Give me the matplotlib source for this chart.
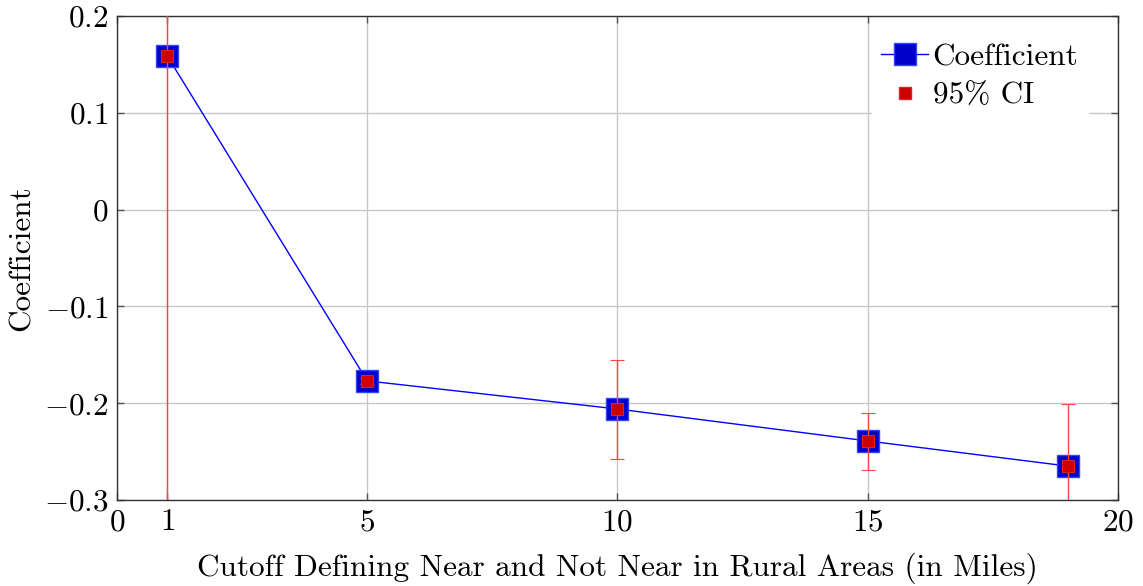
import matplotlib.pyplot as plt
from matplotlib.lines import Line2D
from matplotlib.ticker import FixedLocator, FixedFormatter

plt.rcParams['font.family'] = 'serif'
plt.rcParams['font.serif'] = ['cmr10']
plt.rcParams['mathtext.fontset'] = 'cm'
plt.rcParams['axes.formatter.use_mathtext'] = True

# cutoff distance (miles) and estimated coefficients
cutoff = [1, 5, 10, 15, 19]
coef = [0.159, -0.177, -0.206, -0.239, -0.265]
ci_low = [-0.60, -0.180, -0.258, -0.269, -0.330]
ci_high = [0.90, -0.174, -0.155, -0.210, -0.201]

x_ticks = [0, 1, 5, 10, 15, 20]
y_ticks = [-0.3, -0.2, -0.1, 0, 0.1, 0.2]
y_tick_labels = [r'$-0.3$', r'$-0.2$', r'$-0.1$', r'$0$', r'$0.1$', r'$0.2$']

dpi = 100
fig = plt.figure(figsize=(1143 / dpi, 586 / dpi), dpi=dpi)
ax = fig.add_axes([0.1024, 0.1468, 0.8756, 0.8259])

err_lo = [c - l for c, l in zip(coef, ci_low)]
err_hi = [h - c for c, h in zip(coef, ci_high)]

ax.plot(cutoff, coef, color='blue', lw=1, marker='s', markersize=16,
        markerfacecolor='#0000cc', markeredgecolor='#3344ff', markeredgewidth=1,
        zorder=3)
ax.errorbar(cutoff, coef, yerr=[err_lo, err_hi], fmt='s', color='#ee2222',
            ecolor='#ff4444', elinewidth=1, capsize=5, capthick=1,
            markersize=8, markerfacecolor='#cc0000', markeredgecolor='#dd2222',
            markeredgewidth=0.8, zorder=4)

ax.set_xlim(0, 20)
ax.set_ylim(-0.3, 0.2)
ax.xaxis.set_major_locator(FixedLocator(x_ticks))
ax.xaxis.set_major_formatter(FixedFormatter([rf'${t}$' for t in x_ticks]))
ax.yaxis.set_major_locator(FixedLocator(y_ticks))
ax.yaxis.set_major_formatter(FixedFormatter(y_tick_labels))

ax.grid(True, color='#c8c8c8', lw=1, zorder=0)
ax.set_axisbelow(True)
ax.tick_params(direction='in', length=5, width=1, color='#555555', labelsize=22.5,
               top=True, right=True, pad=6)
for sp in ax.spines.values():
    sp.set_color('#333333')
    sp.set_linewidth(1)

ax.set_xlabel('Cutoff Defining Near and Not Near in Rural Areas (in Miles)', fontsize=22.5, labelpad=12)
ax.set_ylabel('Coefficient', fontsize=22.5, labelpad=6)

handles = [
    Line2D([], [], color='blue', lw=1, marker='s', markersize=16,
           markerfacecolor='#0000cc', markeredgecolor='#3344ff'),
    Line2D([], [], ls='none', marker='s', markersize=8,
           markerfacecolor='#cc0000', markeredgecolor='#dd2222'),
]
ax.legend(handles, ['Coefficient', '95% CI'], loc='upper right',
          bbox_to_anchor=(0.970, 0.963), fontsize=22.5,
          frameon=True, edgecolor='white', framealpha=1, fancybox=False,
          handlelength=1.5, handletextpad=0.15, borderaxespad=0,
          labelspacing=0.33, borderpad=0.3)

fig.savefig('out.png', dpi=dpi)
